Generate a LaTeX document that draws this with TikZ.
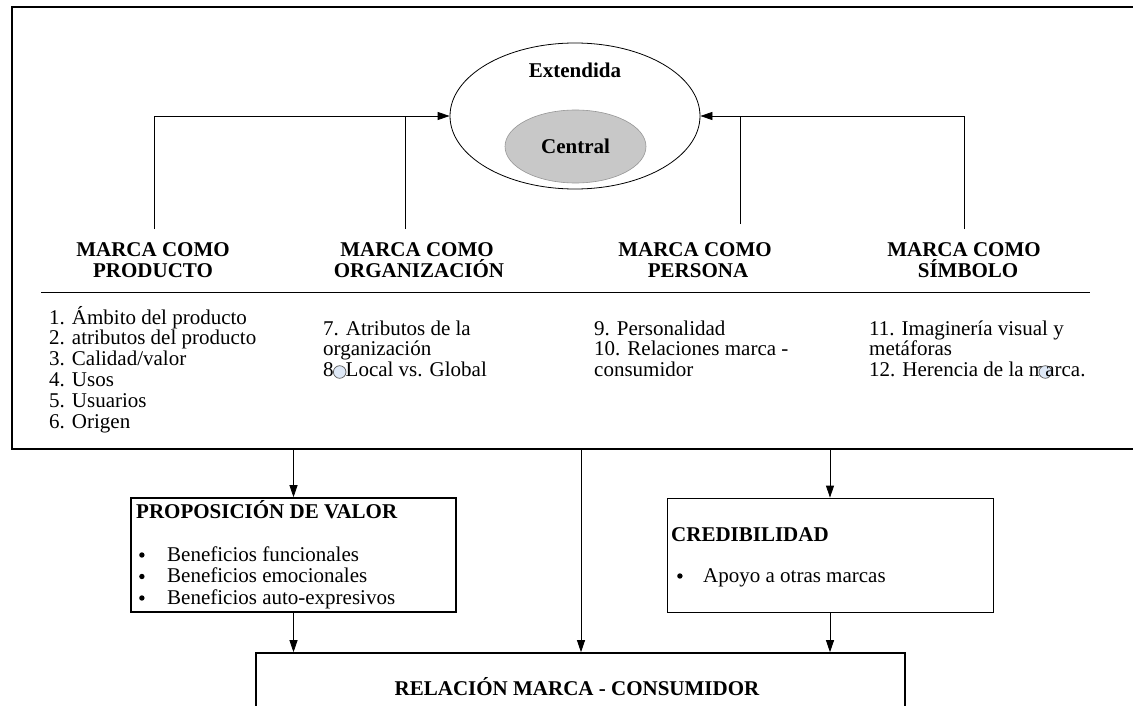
\documentclass[tikz,border=0pt]{standalone}
\usepackage{fontspec}
\setmainfont{Liberation Serif}
\usetikzlibrary{arrows.meta,shapes.geometric}
\definecolor{blobfill}{RGB}{222,232,246}
\definecolor{cgray}{RGB}{200,200,200}
\definecolor{cborder}{RGB}{150,150,150}
\newcommand\txtf{\fontsize{21}{25}\selectfont}
\newcommand\blob{\tikz[baseline=-4pt]\draw[fill=blobfill,draw=black!65,line width=0.7pt] (0pt,0pt) circle (6.3pt);}
\newcommand\bul{\tikz[baseline=-6pt]\fill[black] (2.7pt,0pt) circle (2.7pt);}
\begin{document}
\begin{tikzpicture}[x=1pt,y=-1pt,
  arr/.style={-{Triangle[length=12pt,width=8pt]}, line width=0.8pt},
  con/.style={line width=0.8pt},
  hd/.style={font=\txtf\bfseries, anchor=base, inner sep=0},
  bt/.style={font=\txtf, anchor=base west, inner sep=0},
  btb/.style={font=\txtf\bfseries, anchor=base west, inner sep=0},
  thickbox/.style={draw, rectangle, line width=1.6pt, inner sep=0},
  thinbox/.style={draw, rectangle, line width=0.8pt, inner sep=0}]
\clip (0,0) rectangle (1133,706);
\fill[white] (0,0) rectangle (1133,706);

% outer frame (open on the right)
\node[thickbox, line width=1.8pt, minimum width=1150pt, minimum height=442pt, anchor=north west] (outer) at (11,6) {};

% ellipses
\node[draw, ellipse, line width=0.8pt, minimum width=250pt, minimum height=146pt, inner sep=0] (ext) at (575,116) {};
\node[font=\txtf\bfseries, anchor=base, inner sep=0] (extl) at (575,78) {Extendida};
\node[ellipse, fill=cgray, draw=cborder, line width=0.6pt, minimum width=141pt, minimum height=73pt, inner sep=0, font=\txtf\bfseries] (cen) at (575.5,146.5) {Central};

% headings
\node[hd] (h1a) at (153,256) {MARCA COMO};
\node[hd] (h1b) at (153,277) {PRODUCTO};
\node[hd] (h2a) at (417,256) {MARCA COMO};
\node[hd] (h2b) at (419,277) {ORGANIZACIÓN};
\node[hd] (h3a) at (695,256) {MARCA COMO};
\node[hd] (h3b) at (698,277) {PERSONA};
\node[hd] (h4a) at (964,256) {MARCA COMO};
\node[hd] (h4b) at (968,277) {SÍMBOLO};

% connector start points
\coordinate (s1) at (154,229);
\coordinate (s2) at (405,229);
\coordinate (s3) at (740,224);
\coordinate (s4) at (964,229);
\draw[arr] (s1) |- (ext.west);
\draw[con] (s2) -- (s2 |- ext.west);
\draw[arr] (s4) |- (ext.east);
\draw[con] (s3) -- (s3 |- ext.east);

% separator
\draw[con] (41,292) -- (1090,292);

% column 1
\node[bt] (c1a) at (49,324) {1. Ámbito del producto};
\node[bt] (c1b) at (49,344.8) {2. atributos del producto};
\node[bt] (c1c) at (49,365.6) {3. Calidad/valor};
\node[bt] (c1d) at (49,386.4) {4. Usos};
\node[bt] (c1e) at (49,407.2) {5. Usuarios};
\node[bt] (c1f) at (49,428) {6. Origen};
% column 2
\node[bt] (c2a) at (323,335) {7. Atributos de la};
\node[bt] (c2b) at (323,355.5) {organización};
\node[bt] (c2c) at (323,376) {8\makebox[12pt]{\blob}Local vs. Global};
% column 3
\node[bt] (c3a) at (594,335) {9. Personalidad};
\node[bt] (c3b) at (594,355.5) {10. Relaciones marca -};
\node[bt] (c3c) at (594,376) {consumidor};
% column 4
\node[bt] (c4a) at (869,335) {11. Imaginería visual y};
\node[bt] (c4b) at (869,355.5) {metáforas};
\node[bt] (c4c) at (869,376) {12. Herencia de la m\makebox[0pt]{\blob}arca.};

% lower boxes
\node[thickbox, minimum width=325pt, minimum height=114pt] (prop) at (293.5,555) {};
\node[thinbox, minimum width=326pt, minimum height=114pt] (cred) at (830,555) {};
\node[thickbox, minimum width=649pt, minimum height=67pt] (rel) at (580.5,686.5) {};

\node[btb] (propt) at (136,518) {PROPOSICIÓN DE VALOR};
\node[bt] (p1) at (139,561) {\makebox[28pt][l]{\bul}Beneficios funcionales};
\node[bt] (p2) at (139,582.5) {\makebox[28pt][l]{\bul}Beneficios emocionales};
\node[bt] (p3) at (139,604) {\makebox[28pt][l]{\bul}Beneficios auto-expresivos};

\node[btb] (credt) at (671,541) {CREDIBILIDAD};
\node[bt] (c1) at (677,582) {\makebox[26pt][l]{\bul}Apoyo a otras marcas};

\node[hd] (relt) at (577,695) {RELACIÓN MARCA - CONSUMIDOR};

% lower connectors
\coordinate (m1) at (581,448);
\draw[arr] (outer.south -| prop.north) -- (prop.north);
\draw[arr] (m1) -- (m1 |- rel.north);
\draw[arr] (outer.south -| cred.north) -- (cred.north);
\draw[arr] (prop.south) -- (prop.south |- rel.north);
\draw[arr] (cred.south) -- (cred.south |- rel.north);
\end{tikzpicture}
\end{document}
